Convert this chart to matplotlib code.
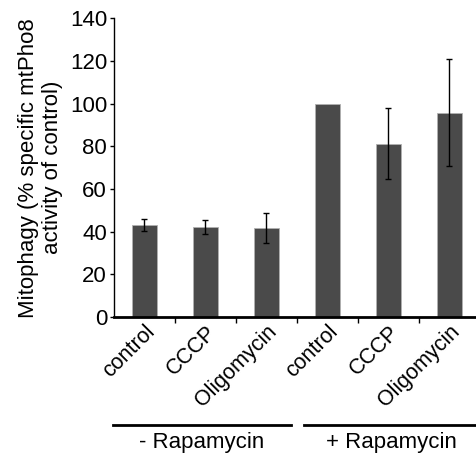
import matplotlib.pyplot as plt
from matplotlib.transforms import blended_transform_factory

plt.rcParams["font.family"] = ["Liberation Sans", "DejaVu Sans"]

labels = ["control", "CCCP", "Oligomycin", "control", "CCCP", "Oligomycin"]
values = [43.1, 42.1, 41.8, 100, 81.3, 95.8]
errors = [2.8, 3.2, 7.0, None, 16.7, 25.0]
groups = ["- Rapamycin", "+ Rapamycin"]


def main():
    fig = plt.figure(figsize=(4.77, 4.57), dpi=100)
    ax = fig.add_axes([0.239, 0.306, 0.767, 0.654])

    x = list(range(len(values)))
    ax.bar(x, values, width=0.4, color="#4a4a4a", edgecolor="#b0b0b0", linewidth=0.6)
    for xi, v, e in zip(x, values, errors):
        if e is None:
            continue
        ax.errorbar(xi, v, yerr=e, fmt="none", ecolor="black",
                    elinewidth=1, capsize=2.5, capthick=1)

    ax.set_xlim(-0.5, 5.5)
    ax.set_ylim(0, 140)
    ax.set_yticks(range(0, 141, 20))
    ax.tick_params(axis="y", labelsize=16, length=3, width=1, pad=2)

    ax.set_xticks(x)
    ax.set_xticklabels(labels, rotation=45, ha="right", va="top",
                       rotation_mode="anchor", fontsize=15.5)
    ax.tick_params(axis="x", which="major", length=0, pad=3)
    ax.set_xticks([i + 0.5 for i in range(5)], minor=True)
    ax.tick_params(axis="x", which="minor", length=4, width=1)

    for s in ["top", "right"]:
        ax.spines[s].set_visible(False)
    ax.spines["bottom"].set_linewidth(2)
    ax.spines["left"].set_linewidth(1)

    ax.set_ylabel("Mitophagy (% specific mtPho8\nactivity of control)",
                  fontsize=16, labelpad=5, linespacing=1.15)

    tr = blended_transform_factory(ax.transData, ax.transAxes)
    spans = [(-0.52, 2.40), (2.61, 5.5)]
    for (x0, x1), name in zip(spans, groups):
        ax.plot([x0, x1], [-0.361, -0.361], color="black", lw=2,
                transform=tr, clip_on=False)
        ax.text((x0 + x1) / 2, -0.385, name, transform=tr, ha="center",
                va="top", fontsize=16)

    fig.savefig("out.png", dpi=100)


if __name__ == "__main__":
    main()
